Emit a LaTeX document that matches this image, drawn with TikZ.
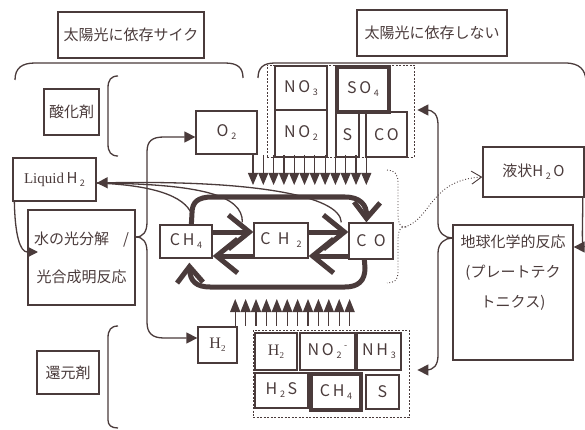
\documentclass[tikz,border=0pt]{standalone}
\usepackage{fontspec}
\setmainfont{Noto Sans CJK JP}
\newfontfamily\serifA{Liberation Serif}
\usetikzlibrary{arrows.meta,calc}
\definecolor{br}{HTML}{4A3B3B}
\newcommand\lsub[1]{\raisebox{-0.35ex}{\fontsize{9}{9}\selectfont #1}}
\newcommand\lsup[1]{\raisebox{0.9ex}{\fontsize{9}{9}\selectfont #1}}
\begin{document}
\begin{tikzpicture}[x=1pt,y=-1pt,
  box/.style={draw=br, line width=1.3pt, inner sep=0pt, font=\fontsize{15}{20}\selectfont, text=br},
  lat/.style={box, font=\fontsize{16}{20}\selectfont},
  hvbox/.style={draw=br, line width=4pt, inner sep=0pt, font=\fontsize{16}{20}\selectfont, text=br},
  ln/.style={draw=br, line width=1.3pt},
  arr/.style={ln, -{Triangle[length=11pt,width=11pt]}},
  thk/.style={draw=br, line width=5pt, -{Straight Barb[length=21pt,width=34pt]}},
  loopthk/.style={draw=br, line width=5pt, -{Straight Barb[length=16pt,width=26pt]}},
  dotl/.style={draw=br, line width=0.9pt, dotted},
  dashbox/.style={draw=br, line width=0.8pt, dash pattern=on 2pt off 1.5pt, inner sep=0pt},
]
\useasboundingbox (0,0) rectangle (585,430);

% header boxes
\node[box, minimum width=146pt, minimum height=46pt] (sunA) at (131,35) {太陽光に依存サイク};
\node[box, minimum width=150pt, minimum height=46pt] (sunB) at (432,33) {太陽光に依存しない};

% big arcs
\draw[ln] (15,80) .. controls (15,68) and (22,63) .. (35,63) -- (225,63) .. controls (238,63) and (243,68) .. (243,78);
\draw[ln] (258,78) .. controls (258,68) and (263,63) .. (275,63) -- (565,63) .. controls (580,63) and (585,70) .. (586,80);

% left column
\node[box, minimum width=55pt, minimum height=46pt] (oxid) at (71.5,112) {酸化剤};
\node[box, minimum width=62pt, minimum height=43pt] (reduc) at (68,372.5) {還元剤};
\draw[ln] (118,76) .. controls (111,76) and (108,80) .. (108,88) -- (108,144) .. controls (108,152) and (111,156) .. (118,156);
\draw[ln] (118,326) .. controls (111,326) and (108,330) .. (108,338) -- (108,420) .. controls (108,425) and (111,428) .. (118,428);

\node[box, minimum width=83pt, minimum height=43pt] (liq) at (54.5,179.5) {{\serifA Liquid}\,H\,\lsub{2}};
\node[box, minimum width=107pt, minimum height=95pt, align=center] (photo) at (81.5,257.5) {水の光分解\hspace{14pt}/\\[18pt]光合成明反応};

% O2 and H2
\node[lat, minimum width=61pt, minimum height=43pt] (o2) at (226.5,132.5) {O\,\lsub{2}};
\node[box, minimum width=39pt, minimum height=36pt, font=\fontsize{16}{20}\selectfont\serifA] (h2) at (217.5,345) {H\lsub{2}};

% top dashed group
\node[dashbox, minimum width=147pt, minimum height=92pt] (tdash) at (340.5,111) {};
\node[lat, minimum width=52pt, minimum height=44pt] (no3) at (301,88) {N\,O\,\lsub{3}};
\node[hvbox, minimum width=52pt, minimum height=45pt] (so4) at (363,89.5) {S\,O\,\lsub{4}};
\node[lat, minimum width=52pt, minimum height=47pt] (no2) at (301,133.5) {N\,O\,\lsub{2}};
\node[lat, minimum width=23pt, minimum height=45pt] (s1) at (347.5,134.5) {S};
\node[lat, minimum width=41pt, minimum height=45pt] (co1) at (386.5,134.5) {C\,O};

% bottom dashed group
\node[dashbox, minimum width=156pt, minimum height=87pt] (bdash) at (331,373.5) {};
\node[box, minimum width=42pt, minimum height=37pt, font=\fontsize{16}{20}\selectfont\serifA] (bh2) at (276,351.5) {\raisebox{-4pt}{H\lsub{2}}};
\node[lat, minimum width=55pt, minimum height=37pt] (no2m) at (327.5,351.5) {N\,O\,\lsub{2}\,\lsup{-}};
\node[lat, minimum width=44pt, minimum height=37pt] (nh3) at (379,351.5) {N\,H\,\lsub{3}};
\node[lat, minimum width=53pt, minimum height=35pt] (h2s) at (281.5,390.5) {H\,\lsub{2}\,S};
\node[hvbox, minimum width=50pt, minimum height=36pt] (ch4b) at (336,392) {C\,H\,\lsub{4}};
\node[lat, minimum width=33pt, minimum height=34pt] (sb) at (382.5,392) {S};

% cycle
\node[lat, minimum width=52pt, minimum height=33pt] (ch4) at (186,241.5) {\raisebox{-4pt}{C\,H\,\lsub{4}}};
\node[lat, minimum width=54pt, minimum height=35pt] (ch2) at (281,240.5) {\raisebox{-2pt}{C\ \ H\ \ \lsub{2}}};
\node[lat, minimum width=44pt, minimum height=36pt] (co) at (371,241) {\raisebox{-4pt}{C\ \ O}};

% right column
\node[box, minimum width=101pt, minimum height=50pt] (h2o) at (533.5,172) {液状H\,\lsub{2}\,O};
\node[box, minimum width=120pt, minimum height=135pt] (geo) at (513,292.5) {};
\node[anchor=north, align=center, font=\fontsize{15}{30}\selectfont, text=br, inner sep=0pt] (geot) at ($(geo.north)+(0,10)$) {地球化学的反応\\(プレートテク\\トニクス)};

% combs
\foreach \i in {0,...,11} {
  \pgfmathsetmacro\xx{253+10.3*\i}
  \draw[br, line width=1.2pt] (\xx,155) -- (\xx,175);
  \fill[br] (\xx-5.15,173) -- (\xx+5.15,173) -- (\xx,185) -- cycle;
}
\foreach \i in {0,...,11} {
  \pgfmathsetmacro\xx{235.2+10.4*\i}
  \draw[br, line width=1.2pt] (\xx,310) -- (\xx,326);
  \fill[br] (\xx-5.2,312) -- (\xx+5.2,312) -- (\xx,299) -- cycle;
}

% thick cycle arrows
\draw[thk] ($(ch4.east)+(0,-9.5)$) -- ($(ch2.west)+(0,-8.5)$);
\draw[thk] ($(ch2.west)+(0,15.5)$) -- ($(ch4.east)+(0,14.5)$);
\draw[thk] ($(ch2.east)+(0,-8.5)$) -- ($(co.west)+(0,-9)$);
\draw[thk] ($(co.west)+(0,15)$) -- ($(ch2.east)+(0,15.5)$);
\draw[loopthk] ($(ch4.north west)+(32,0)$) -- (192,213) .. controls (192,202) and (198,197) .. (212,197) -- (345,197) .. controls (360,197) and (367,205) .. ($(co.north west)+(18,0)$);
\draw[loopthk] ($(co.south west)+(16,0)$) -- (365,268) .. controls (365,281) and (358,287) .. (345,287) -- (210,287) .. controls (196,287) and (190,281) .. ($(ch4.south west)+(30,4)$);

% thin curves to Liquid H2
\coordinate (lq) at ($(liq.east)+(0,3.5)$);
\draw[arr] ($(co.north west)+(-7,0)$) .. controls (340,195) and (250,180) .. (lq);
\draw[ln] ($(ch2.north west)+(-11,0)$) .. controls (243,195) and (200,184) .. (lq);
\draw[ln] (192,215) .. controls (185,195) and (150,185) .. (lq);

% Liquid H2 -> photo
\draw[arr] ($(liq.south west)+(2,0)$) .. controls (15,235) and (20,252) .. (38,252);

% left brace to O2 / H2
\coordinate (lt) at ($(photo.east)+(0,-20.5)$);
\draw[arr] (lt) .. controls (143,237) and (147,232) .. (147,222) -- (147,152) .. controls (147,141) and (152,137) .. (164,137) -- ($(o2.west)+(0,4.5)$);
\draw[arr] (lt) .. controls (143,237) and (147,242) .. (147,252) -- (147,322) .. controls (147,333) and (152,338) .. (164,338) -- ($(h2.west)+(0,-7)$);

% right brace
\coordinate (rt) at ($(geo.west)+(0,-54.5)$);
\draw[arr] (rt) .. controls (445,238) and (438,233) .. (438,223) -- (438,125) .. controls (438,115) and (434,110) .. (426,110) -- ($(tdash.east)+(3,-1)$);
\draw[arr] (rt) .. controls (445,238) and (438,243) .. (438,253) -- (438,355) .. controls (438,365) and (434,370) .. (426,370) -- ($(bdash.east)+(8,-3.5)$);

% H2O -> geo
\draw[arr] ($(h2o.south east)+(-2,0)$) .. controls (583,225) and (581,247) .. ($(geo.east)+(0,-45.5)$);

% dotted brace and curve
\coordinate (dt) at (405,227);
\draw[dotl] (387,170) .. controls (394,170) and (398,174) .. (398,182) -- (398,215) .. controls (398,223) and (400,227) .. (dt) .. controls (400,227) and (398,231) .. (398,239) -- (398,273) .. controls (398,280) and (394,283) .. (387,283);
\draw[dotl, -{Straight Barb[length=10pt,width=13pt]}] (dt) .. controls (432,218) and (430,180) .. ($(h2o.west)+(0,5)$);
\end{tikzpicture}
\end{document}
